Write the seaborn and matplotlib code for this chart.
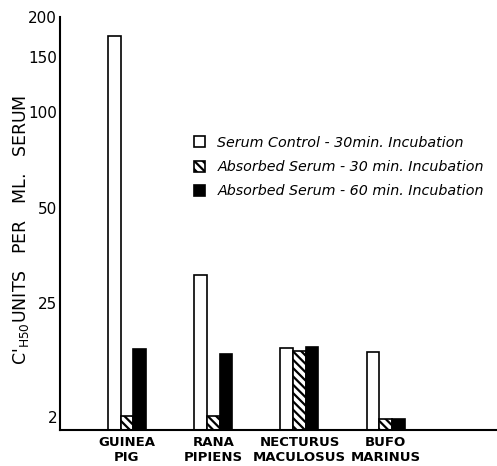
import numpy as np
import pandas as pd
import matplotlib
matplotlib.use("Agg")
import matplotlib.pyplot as plt
import seaborn as sns
from matplotlib.patches import Patch
from matplotlib.ticker import FixedLocator, NullLocator

species = ["GUINEA\nPIG", "RANA\nPIPIENS", "NECTURUS\nMACULOSUS", "BUFO\nMARINUS"]
treatments = [
    "Serum Control - 30min. Incubation",
    "Absorbed Serum - 30 min. Incubation",
    "Absorbed Serum - 60 min. Incubation",
]
control_30 = [174, 30.6, 9.3, 8.4]
absorbed_30 = [2.05, 2.05, 8.6, 1.9]
absorbed_60 = [9.0, 8.1, 9.5, 1.9]
y_ticks = [2, 25, 50, 100, 150, 200]

BREAK = 25.0
RATIO = 0.328  # lower part of the axis is compressed below 25


def forward(v):
    v = np.clip(np.asarray(v, dtype=float), 1e-3, None)
    lv = np.log10(v)
    lb = np.log10(BREAK)
    return np.where(v >= BREAK, lv, lb - (lb - lv) * RATIO)


def inverse(u):
    u = np.asarray(u, dtype=float)
    lb = np.log10(BREAK)
    return np.where(u >= lb, 10 ** u, 10 ** (lb - (lb - u) / RATIO))


def build_frame():
    rows = []
    for vals, name in zip([control_30, absorbed_30, absorbed_60], treatments):
        for sp, v in zip(species, vals):
            rows.append({"Species": sp, "Treatment": name, "Value": v})
    return pd.DataFrame(rows)


def plot_chart(df):
    sns.set_style("white")
    plt.rcParams["font.family"] = ["DejaVu Sans"]
    plt.rcParams["text.color"] = "black"
    plt.rcParams["axes.labelcolor"] = "black"
    plt.rcParams["xtick.color"] = "black"
    plt.rcParams["ytick.color"] = "black"
    plt.rcParams["hatch.linewidth"] = 1.6

    fig = plt.figure(figsize=(4.97, 4.66), dpi=100)
    ax = fig.add_axes([60 / 497, 1 - 430 / 466, 437 / 497, (430 - 17) / 466])

    sns.barplot(data=df, x="Species", y="Value", hue="Treatment",
                order=species, hue_order=treatments,
                palette=["white", "white", "black"], width=0.44,
                edgecolor="black", linewidth=1.2, legend=False, ax=ax)

    for bar in ax.containers[1]:
        bar.set_hatch("\\\\\\\\")

    ax.set_yscale("function", functions=(forward, inverse))
    ax.set_ylim(1.5, 200)
    ax.set_xlim(-0.776, 4.29)
    ax.yaxis.set_major_locator(FixedLocator(y_ticks))
    ax.yaxis.set_minor_locator(NullLocator())
    ax.set_yticklabels([str(t) for t in y_ticks], fontsize=11)
    ax.tick_params(axis="y", direction="in", length=6, width=1.3, pad=2)
    ax.tick_params(axis="x", length=0, pad=4, labelsize=9.5)
    for lab in ax.get_xticklabels():
        lab.set_fontweight("bold")
        lab.set_linespacing(1.25)

    for s in ["top", "right"]:
        ax.spines[s].set_visible(False)
    for s in ["left", "bottom"]:
        ax.spines[s].set_linewidth(1.5)
        ax.spines[s].set_color("black")

    ax.set_xlabel("")
    ax.set_ylabel(r"C$'_{\mathrm{H50}}$UNITS   PER   ML.   SERUM", fontsize=12.5)
    ax.yaxis.set_label_coords((31 - 60) / 437, 0.485)

    handles = [
        Patch(facecolor="white", edgecolor="black", linewidth=1.2),
        Patch(facecolor="white", edgecolor="black", linewidth=1.2, hatch="\\\\\\\\"),
        Patch(facecolor="black", edgecolor="black", linewidth=1.2),
    ]
    fig.legend(handles, treatments, loc="upper left",
               bbox_to_anchor=(181 / 497, 1 - 123 / 466),
               frameon=False, handlelength=0.8, handleheight=0.8,
               handletextpad=0.85, labelspacing=0.72,
               prop={"size": 10.3, "style": "italic"})

    fig.savefig("out.png", dpi=100)


def main():
    df = build_frame()
    plot_chart(df)


if __name__ == "__main__":
    main()
